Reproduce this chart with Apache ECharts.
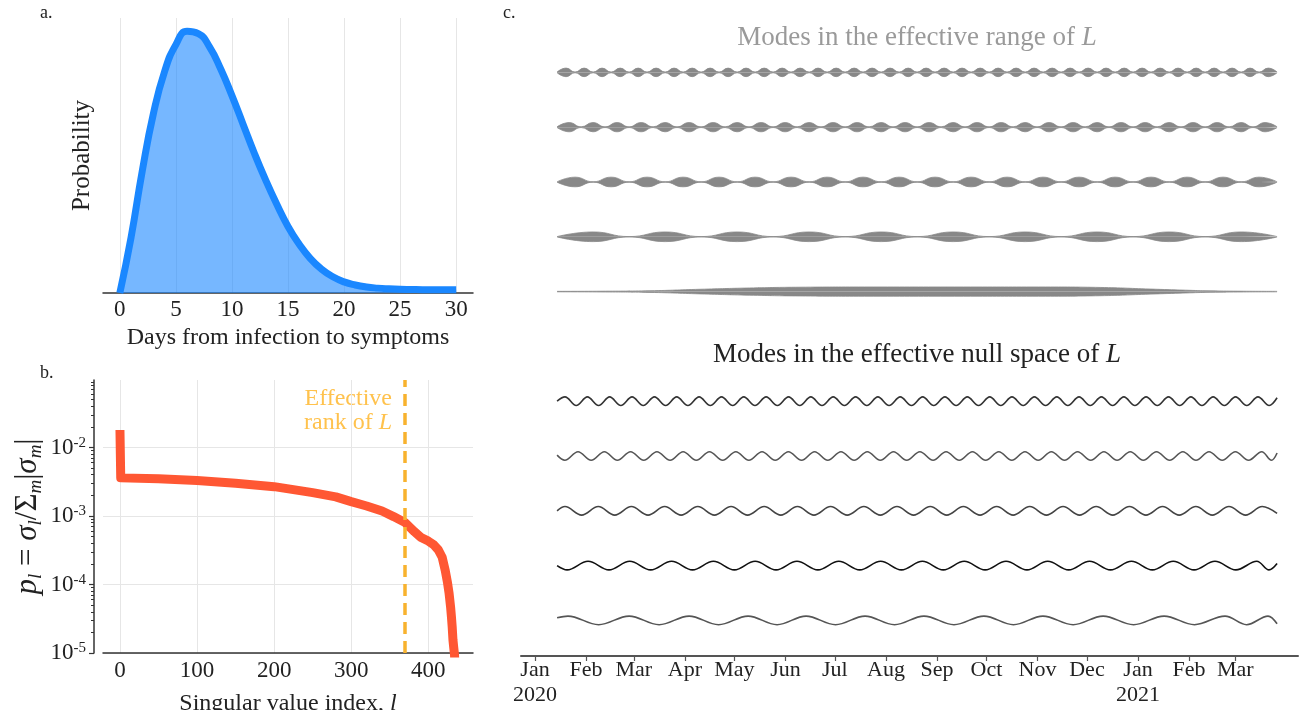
<!DOCTYPE html>
<html>
<head>
<meta charset="utf-8">
<title>Incubation kernel, singular values and modes</title>
<script src="https://cdn.jsdelivr.net/npm/echarts@6.0.0/dist/echarts.min.js"></script>
<style>
  html, body { margin: 0; padding: 0; background: #fff; }
  #chart { width: 1312px; height: 710px; }
</style>
</head>
<body>
<div id="chart"></div>
<script>
// ---- a. incubation period distribution ----
const incubationDays = [0, 1, 2, 3, 4, 5, 6, 7, 8, 9, 10, 11, 12, 13, 14, 15,
  16, 17, 18, 19, 20, 21, 22, 23, 24, 25, 26, 27, 28, 29, 30];
const incubationProb = [0, 0.025, 0.055, 0.081, 0.100, 0.112, 0.118, 0.117, 0.111,
  0.101, 0.089, 0.076, 0.063, 0.051, 0.040, 0.030, 0.022, 0.0155, 0.0107, 0.0073,
  0.0050, 0.0036, 0.0027, 0.0022, 0.0019, 0.0017, 0.0016, 0.0015, 0.0015, 0.0015, 0.0015];
const incubationTicks = [0, 5, 10, 15, 20, 25, 30];

// ---- b. normalised singular values ----
const svIndex = [0, 1, 50, 100, 150, 200, 250, 280, 300, 320, 340, 355, 370, 382,
  390, 400, 407, 413, 418, 422, 425, 427, 429, 430, 431, 432, 433, 434, 436, 438];
const svValue = [0.018, 0.0036, 0.0035, 0.0033, 0.0030, 0.00268, 0.00219, 0.0019,
  0.00162, 0.0014, 0.00118, 0.00098, 0.0008, 0.00059, 0.00049, 0.00043, 0.00038,
  0.00032, 0.00025, 0.00016, 0.000105, 0.000074, 0.000046, 0.000034, 0.000024,
  0.0000155, 0.000012, 0.0000095, 0.000003, 0.0000005];
const effectiveRank = 370;
const svTicks = [0, 100, 200, 300, 400];
const decadeTicks = [1e-5, 1e-4, 1e-3, 1e-2];

// ---- c. modes (x in days since 1 Jan 2020) ----
const monthTicks = [0, 31, 60, 91, 121, 152, 182, 213, 244, 274, 305, 335, 366, 397, 425];
const monthLabels = ['Jan\n2020', 'Feb', 'Mar', 'Apr', 'May', 'Jun', 'Jul', 'Aug',
  'Sep', 'Oct', 'Nov', 'Dec', 'Jan\n2021', 'Feb', 'Mar'];
const modeStartDay = 13.4;
const modeEndDay = 450.4;

// range modes: envelope nodes / packet peaks (alternating, starting with a node)
const rangeDays1 = [13.4, 18.9, 24.3, 29.8, 35.3, 40.7, 46.2, 51.7, 57.1, 62.6, 68.0,
  73.5, 79.0, 84.4, 89.9, 95.4, 100.8, 106.3, 111.7, 117.2, 122.7, 128.1, 133.6, 139.1,
  144.5, 150.0, 155.4, 160.9, 166.4, 171.8, 177.3, 182.8, 188.2, 193.7, 199.1, 204.6,
  210.1, 215.5, 221.0, 226.5, 231.9, 237.4, 242.8, 248.3, 253.8, 259.2, 264.7, 270.2,
  275.6, 281.1, 286.5, 292.0, 297.5, 302.9, 308.4, 313.9, 319.3, 324.8, 330.2, 335.7,
  341.2, 346.6, 352.1, 357.6, 363.0, 368.5, 373.9, 379.4, 384.9, 390.3, 395.8, 401.3,
  406.7, 412.2, 417.6, 423.1, 428.6, 434.0, 439.5, 445.0, 450.4];
const rangeDays2 = [13.4, 20.7, 28.0, 35.2, 42.5, 49.8, 57.1, 64.4, 71.7, 78.9, 86.2,
  93.5, 100.8, 108.1, 115.4, 122.6, 129.9, 137.2, 144.5, 151.8, 159.1, 166.3, 173.6,
  180.9, 188.2, 195.5, 202.8, 210.0, 217.3, 224.6, 231.9, 239.2, 246.5, 253.7, 261.0,
  268.3, 275.6, 282.9, 290.2, 297.4, 304.7, 312.0, 319.3, 326.6, 333.9, 341.1, 348.4,
  355.7, 363.0, 370.3, 377.6, 384.8, 392.1, 399.4, 406.7, 414.0, 421.3, 428.5, 435.8,
  443.1, 450.4];
const rangeDays3 = [13.4, 24.3, 35.3, 46.2, 57.1, 68.0, 79.0, 89.9, 100.8, 111.7, 122.7,
  133.6, 144.5, 155.4, 166.4, 177.3, 188.2, 199.1, 210.1, 221.0, 231.9, 242.8, 253.8,
  264.7, 275.6, 286.5, 297.5, 308.4, 319.3, 330.2, 341.2, 352.1, 363.0, 373.9, 384.9,
  395.8, 406.7, 417.6, 428.6, 439.5, 450.4];
const rangeDays4 = [13.4, 35.3, 57.1, 79.0, 100.8, 122.7, 144.5, 166.4, 188.2, 210.1,
  231.9, 253.8, 275.6, 297.5, 319.3, 341.2, 363.0, 384.9, 406.7, 428.6, 450.4];
const rangeNodeAmp = [0.08, 0.08, 0.04, 0.04];
const rangePeakAmp = [0.93, 1.0, 1.05, 1.05];
const rangeDays5 = [13.4, 40.0, 69.8, 100.2, 130.0, 160.8, 200.0, 260.0, 310.0, 343.0,
  373.3, 395.0, 409.7, 430.0, 450.4];
const rangeAmp5 = [0.05, 0.08, 0.18, 0.5, 0.78, 0.95, 1.0, 1.0, 1.0, 0.9, 0.55, 0.3,
  0.16, 0.08, 0.05];

// null modes: days of successive extrema (sign alternates from the first one)
const nullExtrema1 = [18.2, 25.0, 31.8, 38.6, 45.3, 52.1, 58.9, 65.7, 72.5, 79.3, 86.0,
  92.8, 99.6, 106.4, 113.2, 120.0, 126.7, 133.5, 140.3, 147.1, 153.9, 160.7, 167.4,
  174.2, 181.0, 187.8, 194.6, 201.4, 208.1, 214.9, 221.7, 228.5, 235.3, 242.0, 248.8,
  255.6, 262.4, 269.2, 276.0, 282.7, 289.5, 296.3, 303.1, 309.9, 316.7, 323.4, 330.2,
  337.0, 343.8, 350.6, 357.4, 364.1, 370.9, 377.7, 384.5, 391.3, 398.1, 404.8, 411.6,
  418.4, 425.2, 432.0, 438.8, 445.6];
const nullExtrema2 = [18.1, 26.1, 34.1, 42.1, 50.0, 58.0, 66.0, 74.0, 82.0, 89.9, 97.9,
  105.9, 113.9, 121.9, 129.8, 137.8, 145.8, 153.8, 161.8, 169.7, 177.7, 185.7, 193.7,
  201.7, 209.6, 217.6, 225.6, 233.6, 241.6, 249.5, 257.5, 265.5, 273.5, 281.5, 289.4,
  297.4, 305.4, 313.4, 321.4, 329.3, 337.3, 345.3, 353.3, 361.3, 369.2, 377.2, 385.2,
  393.2, 401.2, 409.1, 417.1, 425.1, 433.1, 441.1, 447.0];
const nullExtrema3 = [18.2, 28.3, 38.4, 48.4, 58.5, 68.6, 78.7, 88.7, 98.8, 108.9, 119.0,
  129.0, 139.1, 149.2, 159.3, 169.3, 179.4, 189.5, 199.6, 209.6, 219.7, 229.8, 239.9,
  249.9, 260.0, 270.1, 280.2, 290.2, 300.3, 310.4, 320.5, 330.5, 340.6, 350.7, 360.8,
  370.8, 380.9, 391.0, 401.1, 411.1, 421.2, 431.3, 441.4];
const nullExtrema4 = [19.5, 32.2, 44.9, 57.5, 70.2, 82.9, 95.6, 108.3, 121.0, 133.6,
  146.3, 159.0, 171.7, 184.4, 197.1, 209.8, 222.4, 235.1, 247.8, 260.5, 273.2, 285.9,
  298.6, 311.2, 323.9, 336.6, 349.3, 362.0, 374.7, 387.4, 400.0, 412.7, 425.4, 438.1, 445.5];
const nullExtrema5 = [20.0, 38.6, 57.1, 75.3, 93.5, 111.4, 129.3, 146.9, 164.5, 182.4,
  200.3, 218.2, 236.1, 254.3, 272.5, 290.4, 308.3, 326.6, 344.8, 363.3, 381.8, 400.3,
  418.8, 431.9, 444.9];
const nullFirstSign = [1, -1, 1, -1, 1];
const nullStartValue = [0, 0.2, 0, 0, 0.6];
const nullEndValue = [0.8, 0.7, -0.6, 0.5, -0.8];

// ---- layout / style ----
const FONT = 'Liberation Serif';
const TEXT = '#222';
const GRIDLINE = '#e6e6e6';
const ROW_PX = 54.8;
const AMP = 4.3 / ROW_PX;
const RANGE_AMP = 4.6 / ROW_PX;
const rangeRowBase = [10.65, 9.65, 8.65, 7.65, 6.65];
const nullRowBase = [4.65, 3.65, 2.65, 1.65, 0.65];
const nullColors = ['#333', '#555', '#444', '#111', '#555'];
const RANGE_COLOR = '#888';

const minorTicks = [];
for (let e = -5; e <= -2; e++) {
  for (let m = 2; m <= 9; m++) {
    const v = m * Math.pow(10, e);
    if (v < 0.0966) minorTicks.push(v);
  }
}

const chart = echarts.init(document.getElementById('chart'), null, { renderer: 'canvas' });

const series = [];

// a.
series.push({
  type: 'line', xAxisIndex: 0, yAxisIndex: 0, silent: true, clip: false,
  data: incubationDays.map((d, i) => [d, incubationProb[i]]),
  smooth: 0.5, symbol: 'none',
  lineStyle: { color: '#1A87FF', width: 7 },
  areaStyle: { color: '#1A87FF', opacity: 0.6 }
});

// b.
series.push({
  type: 'line', xAxisIndex: 1, yAxisIndex: 1, silent: true,
  data: svIndex.map((l, i) => [l, svValue[i]]),
  symbol: 'none',
  lineStyle: { color: '#FF5733', width: 9, cap: 'butt', join: 'round' },
  markLine: {
    silent: true, symbol: ['none', 'none'], label: { show: false },
    lineStyle: { color: '#F8B22E', width: 3.5, type: [12, 7] },
    data: [{ xAxis: effectiveRank }]
  }
});

// c. range modes drawn as their envelope band (upper and lower half, filled to the row line)
const rangeEnvelopes = [rangeDays1, rangeDays2, rangeDays3, rangeDays4].map((days, r) =>
  days.map((d, i) => [d, i % 2 ? rangePeakAmp[r] : rangeNodeAmp[r]]));
rangeEnvelopes.push(rangeDays5.map((d, i) => [d, rangeAmp5[i]]));

rangeEnvelopes.forEach((env, r) => {
  const base = rangeRowBase[r];
  [1, -1].forEach(side => {
    series.push({
      type: 'line', xAxisIndex: 2, yAxisIndex: 3, silent: true,
      data: env.map(p => [p[0], base + side * p[1] * RANGE_AMP]),
      smooth: 0.5, symbol: 'none',
      lineStyle: { color: RANGE_COLOR, width: 0.8 },
      areaStyle: { color: RANGE_COLOR, opacity: 1, origin: base }
    });
  });
});

// c. null-space modes
[nullExtrema1, nullExtrema2, nullExtrema3, nullExtrema4, nullExtrema5].forEach((ext, r) => {
  const base = nullRowBase[r];
  const pts = [[modeStartDay, base + nullStartValue[r] * AMP]];
  ext.forEach((d, i) => {
    const s = i % 2 === 0 ? nullFirstSign[r] : -nullFirstSign[r];
    pts.push([d, base + s * AMP]);
  });
  pts.push([modeEndDay, base + nullEndValue[r] * AMP]);
  series.push({
    type: 'line', xAxisIndex: 2, yAxisIndex: 3, silent: true,
    data: pts, smooth: 0.36, symbol: 'none',
    lineStyle: { color: nullColors[r], width: 1.6 }
  });
});

const labelStyle = { color: TEXT, fontFamily: FONT, fontSize: 23 };
const nameStyle = { color: TEXT, fontFamily: FONT, fontSize: 24 };
const axisLineStyle = { color: '#333', width: 1.5 };

const option = {
  animation: false,
  backgroundColor: '#fff',
  textStyle: { fontFamily: FONT },
  grid: [
    { left: 103, top: 18, width: 370, height: 275, outerBoundsMode: 'none' },
    { left: 103, top: 380, width: 370, height: 273, outerBoundsMode: 'none' },
    { left: 521, top: 40, width: 777, height: 616, outerBoundsMode: 'none' }
  ],
  xAxis: [
    {
      gridIndex: 0, type: 'value', min: -1.5, max: 31.5,
      name: 'Days from infection to symptoms', nameLocation: 'middle', nameGap: 33,
      nameTextStyle: nameStyle, nameMoveOverlap: false,
      axisLine: { onZero: false, lineStyle: axisLineStyle },
      axisTick: { show: false, customValues: incubationTicks },
      axisLabel: Object.assign({ customValues: incubationTicks, margin: 5 }, labelStyle),
      splitLine: { show: true, lineStyle: { color: GRIDLINE, width: 1 } }
    },
    {
      gridIndex: 1, type: 'value', min: -22, max: 458,
      name: '{n|Singular value index, }{i|l}', nameLocation: 'middle', nameGap: 39,
      nameMoveOverlap: false,
      nameTextStyle: {
        rich: {
          n: { fontFamily: FONT, fontSize: 24, color: TEXT },
          i: { fontFamily: FONT, fontSize: 24, color: TEXT, fontStyle: 'italic' }
        }
      },
      axisLine: { onZero: false, lineStyle: axisLineStyle },
      axisTick: { show: false, customValues: svTicks },
      axisLabel: Object.assign({ customValues: svTicks, margin: 6 }, labelStyle),
      splitLine: { show: true, lineStyle: { color: GRIDLINE, width: 1 } }
    },
    {
      gridIndex: 2, type: 'value', min: -8.5, max: 463.1,
      axisLine: { onZero: false, lineStyle: { color: '#555', width: 2 } },
      axisTick: { show: true, customValues: monthTicks, length: 5, lineStyle: { color: '#555', width: 1.2 } },
      axisLabel: Object.assign({
        customValues: monthTicks, margin: 2, lineHeight: 25,
        formatter: v => {
          const k = monthTicks.indexOf(Math.round(v));
          return k >= 0 ? monthLabels[k] : '';
        }
      }, labelStyle, { fontSize: 22 }),
      splitLine: { show: false }
    }
  ],
  yAxis: [
    {
      gridIndex: 0, type: 'value', min: 0, max: 0.124,
      name: 'Probability', nameLocation: 'middle', nameRotate: 90, nameGap: 8,
      nameTextStyle: Object.assign({}, nameStyle, { fontSize: 25 }), nameMoveOverlap: false,
      axisLine: { show: false }, axisTick: { show: false },
      axisLabel: { show: false }, splitLine: { show: false }
    },
    {
      gridIndex: 1, type: 'log', logBase: 10, min: 1e-5, max: 0.0966,
      position: 'left', offset: 9,
      name: '{i|p}{sub|l}{t| = }{i|σ}{sub|l}{t|/Σ}{sub|m}{t||}{i|σ}{sub|m}{t||}',
      nameLocation: 'middle', nameRotate: 90, nameGap: 49, nameMoveOverlap: false,
      nameTextStyle: {
        rich: {
          i: { fontFamily: FONT, fontSize: 31, fontStyle: 'italic', color: TEXT, lineHeight: 34 },
          t: { fontFamily: FONT, fontSize: 31, color: TEXT, lineHeight: 34 },
          sub: { fontFamily: FONT, fontSize: 19, fontStyle: 'italic', color: TEXT, lineHeight: 19, verticalAlign: 'bottom' }
        }
      },
      axisLine: { show: true, onZero: false, lineStyle: axisLineStyle },
      axisTick: { show: true, customValues: decadeTicks, length: 5, lineStyle: { color: '#333', width: 1.2 } },
      axisLabel: {
        customValues: decadeTicks, margin: 8,
        formatter: v => '{b|10}{s|' + Math.round(Math.log10(v)) + '}',
        rich: {
          b: { fontFamily: FONT, fontSize: 23, color: TEXT, lineHeight: 24 },
          s: { fontFamily: FONT, fontSize: 15, color: TEXT, lineHeight: 15, verticalAlign: 'top' }
        }
      },
      splitLine: { show: true, lineStyle: { color: GRIDLINE, width: 1 } }
    },
    {
      gridIndex: 1, type: 'log', logBase: 10, min: 1e-5, max: 0.0966,
      position: 'left', offset: 9,
      axisLine: { show: false, onZero: false },
      axisTick: { show: true, customValues: minorTicks, length: 3, lineStyle: { color: '#333', width: 1 } },
      axisLabel: { show: false }, splitLine: { show: false }
    },
    {
      gridIndex: 2, type: 'value', min: 0, max: 616 / ROW_PX,
      show: false
    }
  ],
  graphic: [
    { type: 'text', x: 40, y: 13, silent: true,
      style: { text: 'a.', fontFamily: FONT, fontSize: 18, fill: TEXT, verticalAlign: 'middle' } },
    { type: 'text', x: 40, y: 373, silent: true,
      style: { text: 'b.', fontFamily: FONT, fontSize: 18, fill: TEXT, verticalAlign: 'middle' } },
    { type: 'text', x: 503, y: 13, silent: true,
      style: { text: 'c.', fontFamily: FONT, fontSize: 18, fill: TEXT, verticalAlign: 'middle' } },
    { type: 'text', x: 917, y: 38, silent: true,
      style: {
        text: 'Modes in the effective range of {i|L}', align: 'center', verticalAlign: 'middle',
        fontFamily: FONT, fontSize: 27, fill: '#9a9a9a',
        rich: { i: { fontFamily: FONT, fontSize: 27, fontStyle: 'italic', fill: '#9a9a9a' } }
      } },
    { type: 'text', x: 917, y: 355, silent: true,
      style: {
        text: 'Modes in the effective null space of {i|L}', align: 'center', verticalAlign: 'middle',
        fontFamily: FONT, fontSize: 27, fill: TEXT,
        rich: { i: { fontFamily: FONT, fontSize: 27, fontStyle: 'italic', fill: TEXT } }
      } },
    { type: 'text', x: 392, y: 399, silent: true,
      style: { text: 'Effective', align: 'right', verticalAlign: 'middle',
        fontFamily: FONT, fontSize: 24, fill: '#FFC24D' } },
    { type: 'text', x: 392, y: 423, silent: true,
      style: { text: 'rank of {i|L}', align: 'right', verticalAlign: 'middle',
        fontFamily: FONT, fontSize: 24, fill: '#FFC24D',
        rich: { i: { fontFamily: FONT, fontSize: 24, fontStyle: 'italic', fill: '#FFC24D' } } } }
  ],
  series: series
};

chart.setOption(option);
</script>
</body>
</html>
